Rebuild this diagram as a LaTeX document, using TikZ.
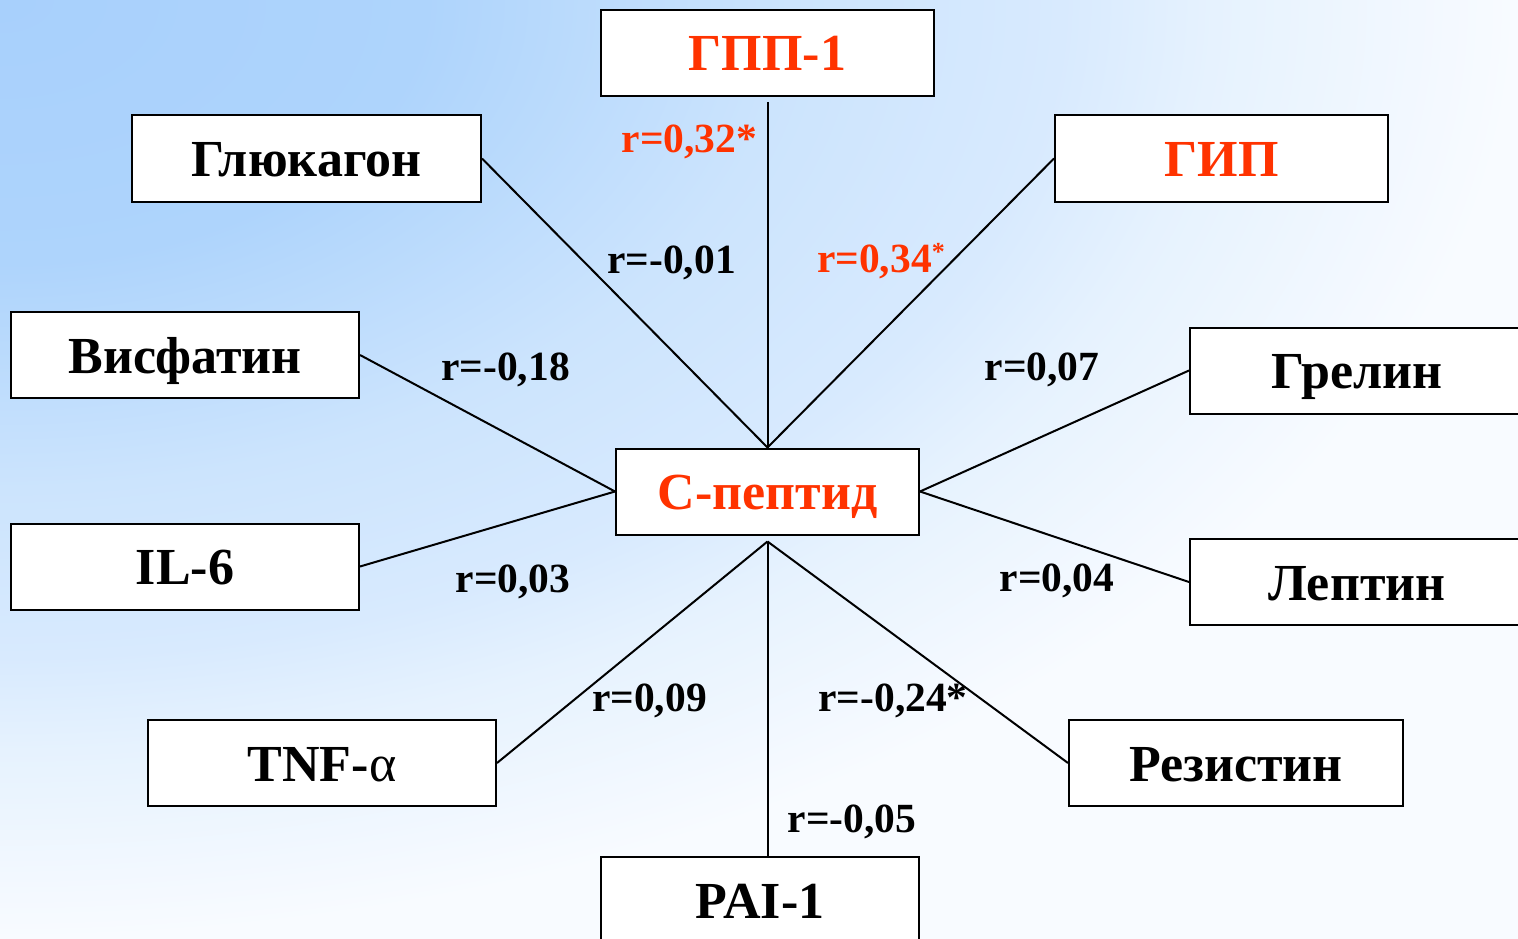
\documentclass[tikz,border=0pt]{standalone}
\usepackage{fontspec}
\setmainfont{Liberation Serif}
\definecolor{redtxt}{HTML}{FF3300}
\definecolor{bgA}{HTML}{A8D0FC}
\definecolor{bgB}{HTML}{AED4FC}
\definecolor{bgC}{HTML}{CCE4FD}
\definecolor{bgD}{HTML}{D8EAFE}
\definecolor{bgE}{HTML}{E6F2FE}
\definecolor{bgF}{HTML}{F8FBFF}
\pgfdeclareradialshading{bgrad}{\pgfpointorigin}{color(0bp)=(bgA); color(7bp)=(bgB); color(13bp)=(bgC); color(17.5bp)=(bgD); color(20bp)=(bgE); color(25bp)=(bgF); color(50bp)=(bgF)}
\tikzset{
  box/.style={draw, line width=2pt, fill=white, inner sep=0pt, minimum height=86pt,
    text height=36pt, text depth=0pt, font=\fontsize{52}{52}\selectfont\bfseries},
  lab/.style={inner sep=0pt, text height=28pt, text depth=0pt, font=\fontsize{41.5}{41.5}\selectfont\bfseries},
  conn/.style={line width=2pt}
}
\begin{document}
\begin{tikzpicture}[x=1pt,y=-1pt]
\useasboundingbox (0,0) rectangle (1518,939);
\clip (0,0) rectangle (1518,939);
\fill[bgF] (0,0) rectangle (1518,939);
\shade[shading=bgrad] (-1518,-939) rectangle (1518,939);
% boxes
\node[box, minimum width=333pt, text=redtxt] (gpp) at (767.5,53) {ГПП-1};
\node[box, minimum width=349pt] (glu) at (306.5,158.5) {Глюкагон};
\node[box, minimum width=333pt, text=redtxt] (gip) at (1221.5,158.5) {ГИП};
\node[box, minimum width=348pt] (vis) at (185,355) {Висфатин};
\node[box, minimum width=334pt] (gre) at (1357,370.5) {Грелин};
\node[box, minimum width=303pt, text=redtxt] (cp) at (767.5,491.5) {С-пептид};
\node[box, minimum width=348pt] (il) at (185,566.5) {IL-6};
\node[box, minimum width=334pt] (lep) at (1357,582) {Лептин};
\node[box, minimum width=348pt] (tnf) at (322,763) {TNF-{\mdseries α}};
\node[box, minimum width=334pt] (res) at (1236,763) {Резистин};
\node[box, minimum width=318pt] (pai) at (760,900) {PAI-1};
% connectors
\coordinate (cpb) at ([yshift=-6pt]cp.south);
\draw[conn] ([yshift=-5pt]gpp.south) -- (cp.north);
\draw[conn] (glu.east) -- (cp.north);
\draw[conn] (gip.west) -- (cp.north);
\draw[conn] (vis.east) -- (cp.west);
\draw[conn] (il.east) -- (cp.west);
\draw[conn] (gre.west) -- (cp.east);
\draw[conn] (lep.west) -- (cp.east);
\draw[conn] (tnf.east) -- (cpb);
\draw[conn] (res.west) -- (cpb);
\draw[conn] (cpb) -- (cpb |- pai.north);
% labels
\node[lab, text=redtxt] (l1) at (689.5,138.5) {r=0,32*};
\node[lab] (l2) at (671.5,259) {r=-0,01};
\node[lab, text=redtxt] (l3) at (881,258) {r=0,34\raisebox{12pt}{\fontsize{26}{26}\selectfont *}};
\node[lab] (l4) at (505.5,366) {r=-0,18};
\node[lab] (l5) at (1042,366) {r=0,07};
\node[lab] (l6) at (513,578) {r=0,03};
\node[lab] (l7) at (1057,577) {r=0,04};
\node[lab] (l8) at (649.5,697) {r=0,09};
\node[lab] (l9) at (893,697) {r=-0,24*};
\node[lab] (l10) at (852,818) {r=-0,05};
\end{tikzpicture}
\end{document}
